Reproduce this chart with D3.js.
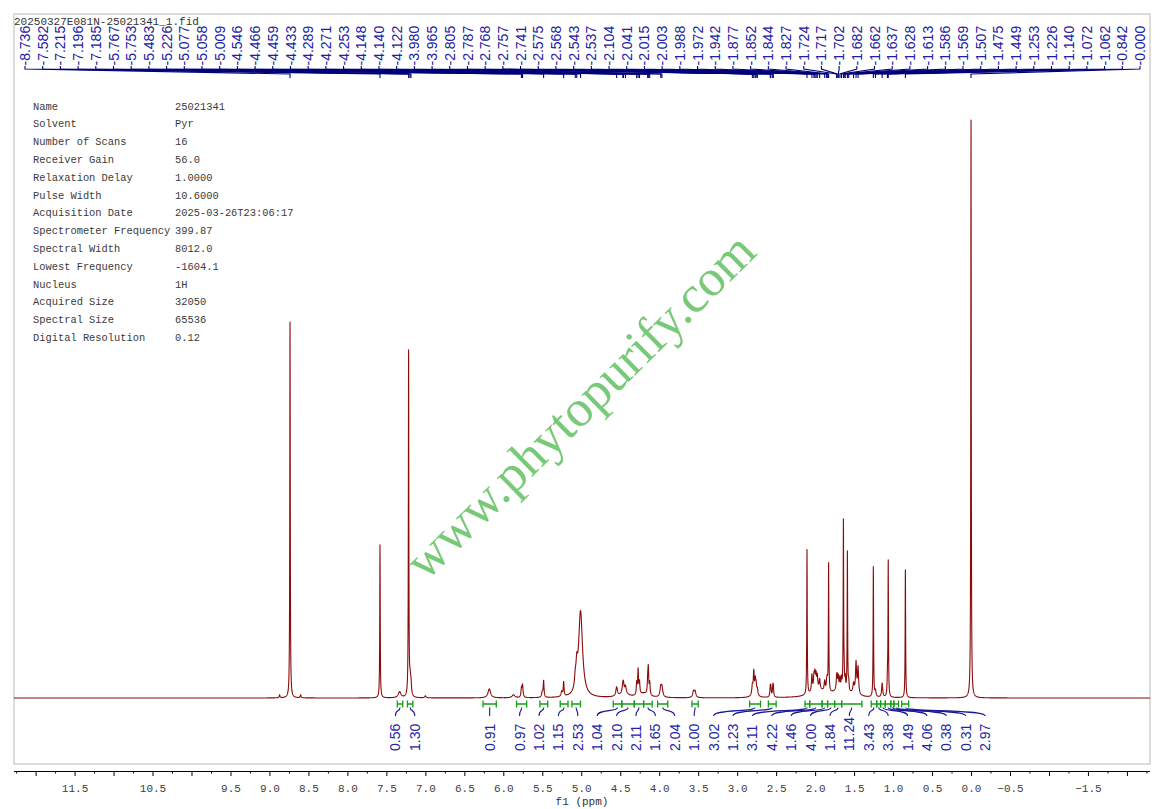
<!DOCTYPE html>
<html><head><meta charset="utf-8">
<script src="https://cdn.jsdelivr.net/npm/d3@7"></script>
<style>html,body{margin:0;padding:0;background:#fff;} svg{display:block}</style>
</head><body>
<svg id="chart" width="1162" height="809"></svg>
<script>
// ================= DATA =================
const title = "20250327E081N-25021341_1.fid";
const infoKeys = ["Name","Solvent","Number of Scans","Receiver Gain","Relaxation Delay","Pulse Width","Acquisition Date","Spectrometer Frequency","Spectral Width","Lowest Frequency","Nucleus","Acquired Size","Spectral Size","Digital Resolution"];
const infoValues = ["25021341","Pyr","16","56.0","1.0000","10.6000","2025-03-26T23:06:17","399.87","8012.0","-1604.1","1H","32050","65536","0.12"];

// picked peak labels (ppm)
const peakLabelPpm = [8.736,7.582,7.215,7.196,7.185,5.767,5.753,5.483,5.226,5.077,5.058,5.009,
  4.546,4.466,4.459,4.433,4.289,4.271,4.253,4.148,4.140,4.122,3.980,3.965,
  2.805,2.787,2.768,2.757,2.741,2.575,2.568,2.543,2.537,
  2.104,2.041,2.015,2.003,1.988,1.972,1.942,1.877,1.852,1.844,1.827,
  1.724,1.717,1.702,1.682,1.662,1.637,1.628,1.613,1.586,1.569,
  1.507,1.475,1.449,1.253,1.226,1.140,1.072,1.062,0.842,0.000];

// spectrum lines: position (ppm), height (arbitrary intensity), half width (ppm)
const linePpm = [8.87,8.736,8.60,7.582,7.33,7.215,7.196,7.185,7.00,6.18,
  5.87,5.767,5.753,5.50,5.483,5.25,5.226,5.077,5.058,5.009,
  4.546,4.466,4.459,4.433,4.289,4.271,4.253,4.148,4.140,4.122,3.980,3.965,3.56,3.54,
  2.805,2.787,2.768,2.757,2.741,2.575,2.568,2.543,2.537,
  2.104,2.041,2.015,2.003,1.988,1.972,1.942,1.877,1.852,1.844,1.827,
  1.724,1.717,1.702,1.682,1.662,1.637,1.628,1.613,1.586,1.569,
  1.507,1.475,1.449,1.253,1.226,1.140,1.072,1.062,0.842,0.000,
  4.45,4.20,1.95,1.70,1.50,2.78];
const lineHeight = [3,376,3,153,6,345,14,12,2,9,
  3,9,12,5,16,5,14,10,20,86,
  9,7,7,7,12,25,12,12,25,12,9,9,6,6,
  9,22,13,9,6,9,8,8,9,
  145,17,14,15,14,13,10,10,8,9,128,
  11,10,12,11,11,168,14,12,140,10,
  8,30,26,130,6,14,18,134,128,578,
  4,4,7,6,4,3];
const lineWidth = [0.006,0.0035,0.006,0.0035,0.02,0.0035,0.008,0.008,0.01,0.02,
  0.02,0.007,0.007,0.01,0.006,0.01,0.006,0.01,0.012,0.03,
  0.012,0.01,0.01,0.01,0.006,0.006,0.006,0.006,0.006,0.006,0.012,0.012,0.012,0.012,
  0.008,0.007,0.007,0.007,0.008,0.006,0.006,0.006,0.006,
  0.0035,0.007,0.007,0.007,0.007,0.007,0.008,0.008,0.006,0.006,0.0035,
  0.006,0.006,0.006,0.006,0.006,0.0035,0.005,0.005,0.0035,0.006,
  0.008,0.008,0.008,0.0035,0.008,0.008,0.005,0.0035,0.0035,0.0035,
  0.07,0.07,0.12,0.08,0.06,0.04];

// integrals
const integralFrom = [7.36,7.23,6.26,5.83,5.53,5.27,5.12,4.59,4.48,4.32,4.20,4.02,3.58,2.84,2.60,2.13,2.07,1.91,1.84,1.75,1.66,1.28,1.21,1.16,1.10,1.03,0.99,0.89];
const integralTo   = [7.29,7.16,6.09,5.70,5.43,5.17,5.01,4.48,4.32,4.20,4.09,3.89,3.50,2.70,2.50,2.07,1.91,1.84,1.75,1.66,1.40,1.21,1.16,1.10,1.03,0.99,0.93,0.80];
const integralValues = ["0.56","1.30","0.91","0.97","1.02","1.15","2.53","1.04","2.10","2.11","1.65","2.04","1.00","3.02","1.23","3.11","4.22","1.46","4.00","1.84","11.24","3.43","3.38","1.49","4.06","0.38","0.31","2.97"];

// axis tick labels
const tickLabels = ["11.5","10.5","9.5","9.0","8.5","8.0","7.5","7.0","6.5","6.0","5.5","5.0","4.5","4.0","3.5","3.0","2.5","2.0","1.5","1.0","0.5","0.0","-0.5","-1.5"];
const axisTitle = "f1 (ppm)";
const watermark = "www.phytopurify.com";

// ================= DRAW =================
const svg = d3.select("#chart");
const frame = {l:14, t:14, r:1150, b:764};
const x = d3.scaleLinear().domain([12.277, -2.296]).range([frame.l, frame.r]);
const y = d3.scaleLinear().domain([0, 578]).range([698, 120]);

const mono = "'Liberation Mono', 'DejaVu Sans Mono', monospace";
const sans = "'Liberation Sans', Arial, sans-serif";

// frame
svg.append("rect").attr("x",frame.l).attr("y",frame.t)
  .attr("width",frame.r-frame.l).attr("height",frame.b-frame.t)
  .attr("fill","none").attr("stroke","#cfcfcf").attr("stroke-width",1.5);

// spectrum
const lines = linePpm.map((p,i)=>({c:p,h:lineHeight[i],w:lineWidth[i]}));
function intensity(p){
  let s=0;
  for(const L of lines){ const d=(p-L.c)/L.w; s+=L.h/(1+d*d); }
  return s;
}
const samples = [];
for(let p=x.domain()[0]; p>=x.domain()[1]; p-=0.0015) samples.push(p);
linePpm.forEach(p=>samples.push(p));
samples.sort((a,b)=>b-a);
const spec = samples.map(p=>({p, v:intensity(p)}));
svg.append("path").datum(spec)
  .attr("d", d3.line().x(d=>x(d.p)).y(d=>y(d.v)))
  .attr("fill","none").attr("stroke","#8b0a0a").attr("stroke-width",1.1)
  .attr("stroke-linejoin","round");

// watermark
svg.append("text").text(watermark)
  .attr("transform","translate(592,418) rotate(-44.6)")
  .attr("text-anchor","middle")
  .attr("font-family","'Liberation Serif', 'DejaVu Serif', serif")
  .attr("font-size",52).attr("fill","#78c978");

// title
svg.append("text").text(title).attr("x",frame.l).attr("y",24.5)
  .attr("font-family",mono).attr("font-size",11).attr("fill","#333");

// info table
const info = svg.append("g").attr("font-family",mono).attr("font-size",10.4).attr("fill","#3a3a3a");
infoKeys.forEach((k,i)=>{
  const yy = 109.5 + i*17.8;
  info.append("text").attr("x",33).attr("y",yy).text(k);
  info.append("text").attr("x",175).attr("y",yy).text(infoValues[i]);
});

// peak labels on top
const nL = peakLabelPpm.length;
const lblX0 = frame.l + 11, lblX1 = frame.r - 10;
const peakG = svg.append("g");
peakLabelPpm.forEach((p,i)=>{
  const lx = lblX0 + i*(lblX1-lblX0)/(nL-1);
  const px = x(p);
  peakG.append("path")
    .attr("d",`M${lx},66 L${lx},69 L${px},74 L${px},78`)
    .attr("fill","none").attr("stroke","#00007a").attr("stroke-width",1.1);
  peakG.append("text")
    .attr("transform",`translate(${lx},65.5) rotate(-90)`)
    .attr("dy","0.36em").attr("text-anchor","start")
    .attr("font-family",sans).attr("font-size",14).attr("fill","#2020a6")
    .text("-"+p.toFixed(3));
});

// integrals
const ideals = integralFrom.map((f,i)=>x((f+integralTo[i])/2));
function spread(vals, gap){
  let cl = vals.map((v,i)=>({i0:i,n:1,sum:v}));
  const first = c => c.sum/c.n - (c.n-1)*gap/2;
  let merged=true;
  while(merged){
    merged=false;
    for(let k=0;k<cl.length-1;k++){
      const a=cl[k], b=cl[k+1];
      if(first(b) - (first(a)+(a.n-1)*gap) < gap){
        a.n+=b.n; a.sum+=b.sum; cl.splice(k+1,1); merged=true; break;
      }
    }
  }
  const out=[];
  cl.forEach(c=>{ const f=first(c); for(let j=0;j<c.n;j++) out.push(f+j*gap); });
  return out;
}
const labelXs = spread(ideals, 19.4);
const intG = svg.append("g");
integralFrom.forEach((f,i)=>{
  const x1=x(f), x2=x(integralTo[i]), bx=(x1+x2)/2, lx=labelXs[i];
  intG.append("path")
    .attr("d",`M${lx},716 C${lx},709 ${bx},712 ${bx},707.5`)
    .attr("fill","none").attr("stroke","#1a1a96").attr("stroke-width",1.1);
  intG.append("path")
    .attr("d",`M${x1},700.5 L${x1},707.5 M${x1},704 L${x2},704 M${x2},700.5 L${x2},707.5`)
    .attr("fill","none").attr("stroke","#12a012").attr("stroke-width",1.3);
  intG.append("text")
    .attr("transform",`translate(${lx},751) rotate(-90)`)
    .attr("dy","0.36em").attr("text-anchor","start")
    .attr("font-family",sans).attr("font-size",14).attr("fill","#2424a6")
    .text(integralValues[i]);
});

// x axis
const major = d3.range(-2, 12.01, 0.5);
const minor = d3.range(-2.25, 12.3, 0.5).filter(v=>v<=x.domain()[0] && v>=x.domain()[1]);
const fmt = d => { const s=(Math.round(d*10)/10).toFixed(1); return tickLabels.includes(s) ? s.replace("-","\u2212") : ""; };
const axG = svg.append("g").attr("transform","translate(0,771)")
  .call(d3.axisBottom(x).tickValues(major).tickSize(5).tickSizeOuter(0).tickPadding(8).tickFormat(fmt));
axG.select(".domain").attr("d",`M${frame.l},0.5H${frame.r}`).attr("stroke","#000");
axG.selectAll("text").attr("font-family",mono).attr("font-size",11).attr("fill","#404040");
const axMinor = svg.append("g").attr("transform","translate(0,771)")
  .call(d3.axisBottom(x).tickValues(minor).tickSize(2.5).tickSizeOuter(0).tickFormat(""));
axMinor.select(".domain").remove();

svg.append("text").text(axisTitle).attr("x",(frame.l+frame.r)/2).attr("y",805)
  .attr("text-anchor","middle").attr("font-family",mono).attr("font-size",11).attr("fill","#333");
</script>
</body></html>
